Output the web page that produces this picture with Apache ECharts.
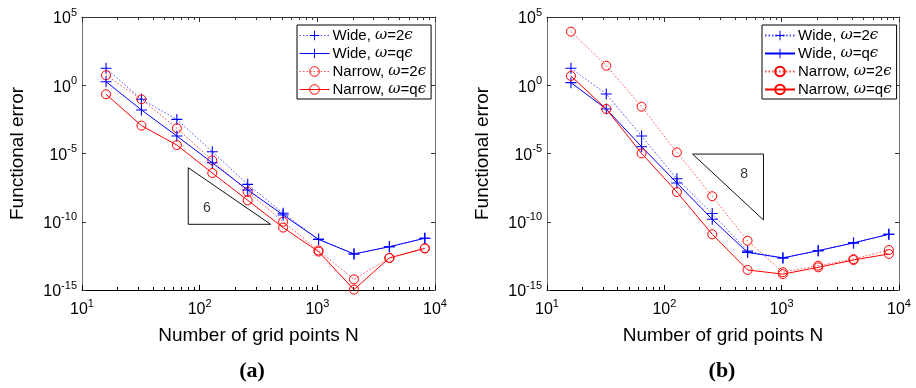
<!DOCTYPE html>
<html><head><meta charset="utf-8">
<script src="https://cdn.jsdelivr.net/npm/echarts@6/dist/echarts.min.js"></script>
<style>html,body{margin:0;padding:0;background:#fff}#c{width:916px;height:388px}</style>
</head><body><div id="c"></div>
<script>
// ---------------- data ----------------
const gridPoints = [16, 32, 64, 128, 256, 512, 1024, 2048, 4096, 8192];

// panel (a)
const wide2a   = [1.74e1, 9.33e-2, 3.16e-3, 1.35e-5, 5.5e-8, 4.17e-10, 5.13e-12, 4.37e-13, 1.48e-12, 6.17e-12];
const wideQa   = [1.82, 1.55e-2, 1.91e-4, 2.09e-6, 2.14e-8, 3.16e-10, 5.13e-12, 4.37e-13, 1.48e-12, 6.17e-12];
const narrow2a = [5.37, 9.33e-2, 7.08e-4, 3.16e-6, 1.58e-8, 1.0e-10, 7.94e-13, 6.03e-15, 2.24e-13, 1.12e-12];
const narrowQa = [2.19e-1, 1.1e-3, 4.17e-5, 3.72e-7, 3.72e-9, 3.72e-11, 6.46e-13, 1.07e-15, 2.24e-13, 1.12e-12];

// panel (b)
const wide2b   = [1.74e1, 2.29e-1, 1.91e-4, 1.41e-7, 3.98e-10, 7.08e-13, 2.24e-13, 7.59e-13, 2.82e-12, 1.2e-11];
const wideQb   = [1.55, 1.82e-2, 3.16e-5, 6.92e-8, 1.51e-10, 5.62e-13, 2.24e-13, 7.59e-13, 2.82e-12, 1.2e-11];
const narrow2b = [8.51e3, 2.69e1, 2.69e-2, 1.2e-5, 7.41e-9, 4.07e-12, 2.0e-14, 6.03e-14, 1.82e-13, 8.51e-13];
const narrowQb = [4.79, 1.82e-2, 1.02e-5, 1.51e-8, 1.2e-11, 2.95e-14, 1.45e-14, 4.57e-14, 1.58e-13, 4.37e-13];

// slope triangles (vertices, closed) and their labels
const triangleA = [[80, 9.1e-7], [80, 6.5e-11], [401, 6.5e-11], [80, 9.1e-7]];
const triangleB = [[174, 9.1e-6], [700, 9.1e-6], [700, 1.35e-10], [174, 9.1e-6]];
const slopeLabelA = [[115, 1.0e-9, '6']];
const slopeLabelB = [[479, 3.0e-7, '8']];

// axes
const xMin = 10, xMax = 1e4;
const yMin = 1e-15, yMax = 1e5;
const xMajorTicks = [10, 100, 1000, 10000];
const xMinorTicks = [20,30,40,50,60,70,80,90,200,300,400,500,600,700,800,900,2000,3000,4000,5000,6000,7000,8000,9000];
const yMajorTicks = [1e-15, 1e-10, 1e-5, 1, 1e5];

const seriesNames = ['Wide, ω=2ϵ', 'Wide, ω=qϵ', 'Narrow, ω=2ϵ', 'Narrow, ω=qϵ'];
const xAxisTitle = 'Number of grid points N';
const yAxisTitle = 'Functional error';
const panelTitles = ['(a)', '(b)'];

// ---------------- chart ----------------
const FONT = '"Liberation Sans", Arial, Helvetica, sans-serif';
const BLUE = '#0000ff', RED = '#ff0000';
const PLUS = 'path://M9,0H11V9H20V11H11V20H9V11H0V9H9Z';
// style of each series: [color, dotted, marker]
const seriesStyles = [[BLUE, true, 'plus'], [BLUE, false, 'plus'], [RED, true, 'circle'], [RED, false, 'circle']];

function powLabel(v) {
  const e = Math.round(Math.log10(v));
  return '{b|10}{s|' + e + '}';
}
const labelRich = {
  b: { fontSize: 16, fontFamily: FONT, color: '#000', lineHeight: 20, verticalAlign: 'bottom' },
  s: { fontSize: 11, fontFamily: FONT, color: '#000', lineHeight: 11, verticalAlign: 'top' }
};

const grids = [
  { left: 82, top: 17, width: 353, height: 273, show: false },
  { left: 547, top: 17, width: 352, height: 273, show: false }
];

function xAxesFor(gi) {
  const base = { type: 'log', logBase: 10, min: xMin, max: xMax, gridIndex: gi, splitLine: { show: false } };
  return [
    Object.assign({}, base, {
      position: 'bottom',
      name: xAxisTitle, nameLocation: 'middle', nameGap: 36,
      nameTextStyle: { fontSize: 19, fontFamily: FONT, color: '#000' },
      axisLine: { lineStyle: { color: '#000', width: 1 } },
      axisTick: { inside: true, length: 5, customValues: xMajorTicks, lineStyle: { color: '#000' } },
      axisLabel: { customValues: xMajorTicks, formatter: powLabel, rich: labelRich, margin: 8 }
    }),
    Object.assign({}, base, {
      position: 'top',
      axisLine: { lineStyle: { color: '#333', width: 1 } },
      axisTick: { inside: true, length: 5, customValues: xMajorTicks, lineStyle: { color: '#333' } },
      axisLabel: { show: false }
    }),
    Object.assign({}, base, {
      position: 'bottom',
      axisLine: { show: false },
      axisTick: { inside: true, length: 3, customValues: xMinorTicks, lineStyle: { color: '#000' } },
      axisLabel: { show: false }
    }),
    Object.assign({}, base, {
      position: 'top',
      axisLine: { show: false },
      axisTick: { inside: true, length: 3, customValues: xMinorTicks, lineStyle: { color: '#333' } },
      axisLabel: { show: false }
    })
  ];
}
function yAxesFor(gi) {
  const base = { type: 'log', logBase: 10, min: yMin, max: yMax, gridIndex: gi, splitLine: { show: false } };
  return [
    Object.assign({}, base, {
      position: 'left',
      name: yAxisTitle, nameLocation: 'middle', nameGap: 55, nameRotate: 90,
      nameTextStyle: { fontSize: 19, fontFamily: FONT, color: '#000' },
      axisLine: { lineStyle: { color: '#707070', width: 1 } },
      axisTick: { inside: true, length: 4, customValues: yMajorTicks, lineStyle: { color: '#333' } },
      axisLabel: { customValues: yMajorTicks, formatter: powLabel, rich: labelRich, margin: 5 }
    }),
    Object.assign({}, base, {
      position: 'right',
      axisLine: { lineStyle: { color: '#707070', width: 1 } },
      axisTick: { inside: true, length: 4, customValues: yMajorTicks, lineStyle: { color: '#333' } },
      axisLabel: { show: false }
    })
  ];
}

function pairs(vals) { return gridPoints.map((n, i) => [n, vals[i]]); }

function lineStyleOf(st) {
  return { color: st[0], width: 1, type: st[1] ? [1.5, 2] : 'solid', opacity: st[1] ? 0.7 : 1 };
}
function itemStyleOf(st) {
  return st[2] === 'plus'
    ? { color: st[0], borderColor: st[0], borderWidth: 0 }
    : { color: 'rgba(0,0,0,0)', borderColor: st[0], borderWidth: 1 };
}

function dataSeries(name, vals, xi, yi, st) {
  return {
    type: 'line', name: name, xAxisIndex: xi, yAxisIndex: yi,
    data: pairs(vals),
    symbol: st[2] === 'plus' ? PLUS : 'circle',
    symbolSize: st[2] === 'plus' ? 11 : 9,
    showAllSymbol: true,
    color: st[0],
    lineStyle: lineStyleOf(st),
    itemStyle: itemStyleOf(st),
    emphasis: { disabled: true },
    animation: false,
    z: st[1] ? 2 : 3
  };
}
function triSeries(pts, xi, yi) {
  return {
    type: 'line', xAxisIndex: xi, yAxisIndex: yi, data: pts, symbol: 'none',
    lineStyle: { color: '#111', width: 1 }, silent: true, animation: false, z: 1
  };
}
function labelSeries(pts, xi, yi) {
  return {
    type: 'scatter', xAxisIndex: xi, yAxisIndex: yi, data: pts.map(p => [p[0], p[1], p[2]]),
    symbolSize: 1, itemStyle: { color: 'rgba(0,0,0,0)' }, silent: true, animation: false,
    label: { show: true, position: 'inside', formatter: p => p.value[2], fontSize: 14, fontFamily: FONT, color: '#000' }
  };
}

// panel (b) series get an internal suffix so each legend binds to its own series
const SUFFIX_B = '\u200b';
const namesA = seriesNames.slice();
const namesB = seriesNames.map(n => n + SUFFIX_B);

function legendFor(left, names, styled) {
  const lg = {
    data: styled ? names.map((n, i) => ({
      name: n,
      lineStyle: lineStyleOf(seriesStyles[i]),
      itemStyle: itemStyleOf(seriesStyles[i])
    })) : names.slice(),
    left: left, top: 25, orient: 'vertical',
    itemWidth: 30, itemHeight: 12, itemGap: 3,
    padding: [3, 5, 2, 2],
    backgroundColor: '#fff', borderColor: '#000', borderWidth: 1, borderRadius: 0,
    selectedMode: false,
    formatter: n => n.replace(SUFFIX_B, '').replace(/ω/g, '{g|ω}').replace(/ϵ/g, '{g|ϵ}'),
    textStyle: {
      fontSize: 15, fontFamily: FONT, color: '#000', padding: [0, 0, 0, -2],
      rich: { g: { fontSize: 15, fontStyle: 'italic', fontFamily: '"DejaVu Serif", serif', color: '#000' } }
    }
  };
  return lg;
}

const option = {
  backgroundColor: '#fff',
  animation: false,
  grid: grids,
  xAxis: xAxesFor(0).concat(xAxesFor(1)),
  yAxis: yAxesFor(0).concat(yAxesFor(1)),
  legend: [legendFor(297, namesA, true), legendFor(762, namesB, false)],
  graphic: [
    { type: 'text', x: 252, y: 371, style: { text: panelTitles[0], font: 'bold 22px "Liberation Serif", "Times New Roman", serif', fill: '#000', textAlign: 'center', textVerticalAlign: 'middle' } },
    { type: 'text', x: 722, y: 371, style: { text: panelTitles[1], font: 'bold 22px "Liberation Serif", "Times New Roman", serif', fill: '#000', textAlign: 'center', textVerticalAlign: 'middle' } }
  ],
  series: [
    triSeries(triangleA, 0, 0),
    labelSeries(slopeLabelA, 0, 0),
    dataSeries(namesA[0], wide2a, 0, 0, seriesStyles[0]),
    dataSeries(namesA[1], wideQa, 0, 0, seriesStyles[1]),
    dataSeries(namesA[2], narrow2a, 0, 0, seriesStyles[2]),
    dataSeries(namesA[3], narrowQa, 0, 0, seriesStyles[3]),
    triSeries(triangleB, 4, 2),
    labelSeries(slopeLabelB, 4, 2),
    dataSeries(namesB[0], wide2b, 4, 2, seriesStyles[0]),
    dataSeries(namesB[1], wideQb, 4, 2, seriesStyles[1]),
    dataSeries(namesB[2], narrow2b, 4, 2, seriesStyles[2]),
    dataSeries(namesB[3], narrowQb, 4, 2, seriesStyles[3])
  ]
};
const chart = echarts.init(document.getElementById('c'));
chart.setOption(option);
</script>
</body></html>
